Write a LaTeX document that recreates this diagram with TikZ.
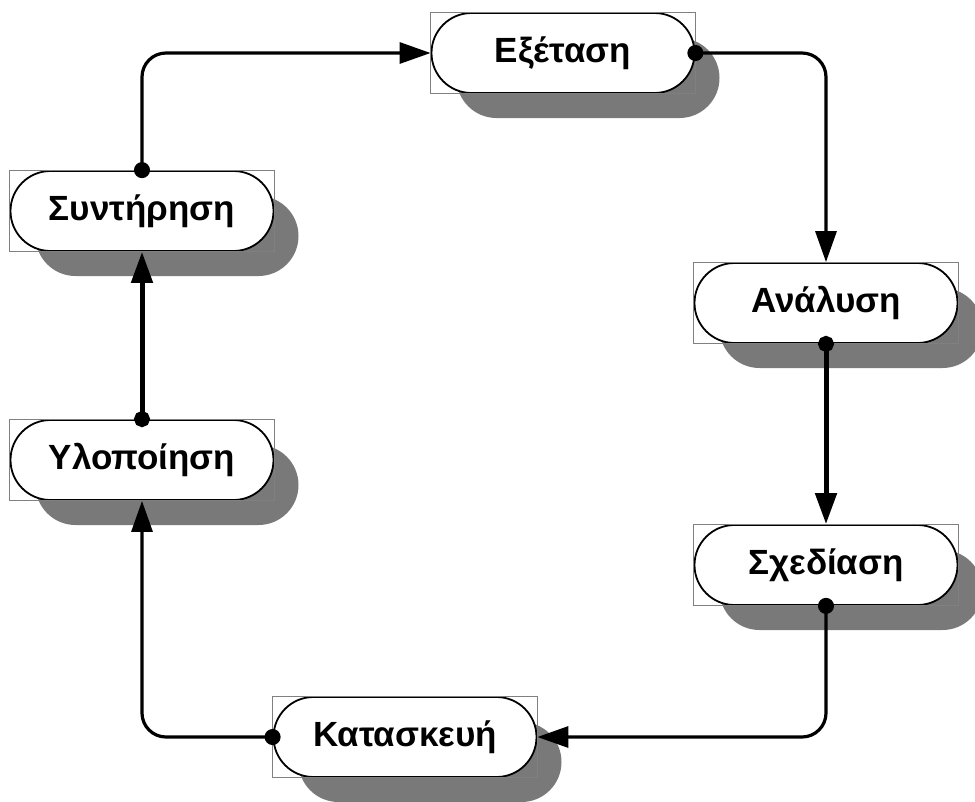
\documentclass[tikz,border=0pt]{standalone}
\usepackage{fontspec}
\setmainfont{Liberation Sans}
\usetikzlibrary{arrows.meta,shadows}
\tikzset{
  phase/.style={draw=black,line width=1.8pt,fill=white,rounded corners=40pt,
    minimum width=263pt,minimum height=80pt,inner sep=0pt,
    font=\fontsize{35}{40}\selectfont\bfseries,
    general shadow={fill=gray!95!black,shadow xshift=25pt,shadow yshift=-25pt}},
  framebox/.style={draw=gray,line width=1pt},
  flow/.style={line width=3.2pt,rounded corners=24pt,
    {Circle[length=16pt]}-{Triangle[length=31pt,width=21pt]},shorten <=-8pt},
  heavy/.style={flow,line width=5pt}
}

\begin{document}
\begin{tikzpicture}[x=1pt,y=-1pt]
  \useasboundingbox (0,0) rectangle (975,801);
  % Phases
  \node[phase] (exetasi) at (563,53) {Εξέταση};
  \node[phase] (analysi) at (826,303) {Ανάλυση};
  \node[phase] (schediasi) at (826,565) {Σχεδίαση};
  \node[phase] (kataskevi) at (405,737) {Κατασκευή};
  \node[phase] (ylopoiisi) at (142,460) {Υλοποίηση};
  \node[phase] (syntirisi) at (142,211) {Συντήρηση};
  \foreach \n in {exetasi,analysi,schediasi,kataskevi,ylopoiisi,syntirisi}
    \draw[framebox] (\n.north west) rectangle (\n.south east);
  % Flow
  \draw[flow] (syntirisi.north) |- (exetasi.west);
  \draw[flow] (exetasi.east) -| (analysi.north);
  \draw[heavy] (analysi.south) -- (schediasi.north);
  \draw[flow] (schediasi.south) |- (kataskevi.east);
  \draw[flow] (kataskevi.west) -| (ylopoiisi.south);
  \draw[heavy] (ylopoiisi.north) -- (syntirisi.south);
\end{tikzpicture}
\end{document}
